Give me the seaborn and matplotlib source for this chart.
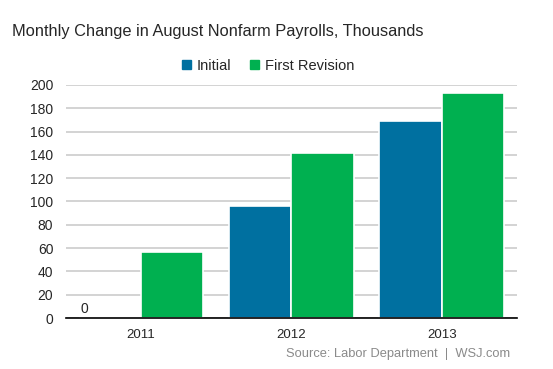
import pandas as pd
import matplotlib
matplotlib.use("Agg")
import matplotlib.pyplot as plt
import seaborn as sns
from matplotlib.patches import Patch

# Data
YEARS = ["2011", "2012", "2013"]
INITIAL = [0, 96, 169]
FIRST_REVISION = [57, 142, 193]
SERIES = ["Initial", "First Revision"]
COLORS = ["#0070A0", "#00B050"]

df = pd.DataFrame({
    "year": YEARS * 2,
    "value": INITIAL + FIRST_REVISION,
    "series": [SERIES[0]] * 3 + [SERIES[1]] * 3,
})

sns.set_style("white")
plt.rcParams["font.family"] = ["Liberation Sans", "DejaVu Sans"]

fig = plt.figure(figsize=(5.53, 3.69), dpi=100)
ax = fig.add_axes([0.119, 0.138, 0.816, 0.632])

sns.barplot(data=df, x="year", y="value", hue="series", palette=COLORS,
            width=0.83, edgecolor="white", linewidth=1.2, saturation=1,
            ax=ax, legend=False)

ax.set_ylim(0, 200)
ax.set_xlim(-0.5, 2.5)
ax.set_yticks(range(0, 201, 20))
ax.grid(axis="y", color="#cccccc", linewidth=1.2)
ax.set_axisbelow(True)
ax.set_xlabel("")
ax.set_ylabel("")

for s in ["top", "right", "left"]:
    ax.spines[s].set_visible(False)
ax.spines["bottom"].set_color("black")
ax.spines["bottom"].set_linewidth(1.2)

ax.set_xticks([0, 1, 2])
ax.set_xticks([-0.5, 0.5, 1.5, 2.5], minor=True)
ax.tick_params(axis="x", which="major", length=0, labelsize=9.5, pad=8)
ax.tick_params(axis="x", which="minor", length=4, width=1.2, color="black",
               direction="out")
ax.tick_params(axis="y", length=0, labelsize=10, pad=9)

# zero label on the empty 2011 initial bar
first = ax.patches[0]
ax.text(first.get_x() + 2 / 150, 1.5, "0", fontsize=10, ha="left", va="bottom")

# legend
handles = [Patch(color=c, label=l) for c, l in zip(COLORS, SERIES)]
fig.legend(handles=handles, loc="center", bbox_to_anchor=(0.485, 0.822),
           ncol=2, frameon=False, fontsize=10.5, handlelength=0.6,
           handleheight=0.6, handletextpad=0.4, columnspacing=1.3)

fig.text(0.022, 0.915, "Monthly Change in August Nonfarm Payrolls, Thousands",
         fontsize=11.8, ha="left", va="center")
fig.text(0.923, 0.04, "Source: Labor Department  |  WSJ.com",
         fontsize=9.3, color="#8a8a8a", ha="right", va="center")

fig.savefig("out.png", dpi=100)
